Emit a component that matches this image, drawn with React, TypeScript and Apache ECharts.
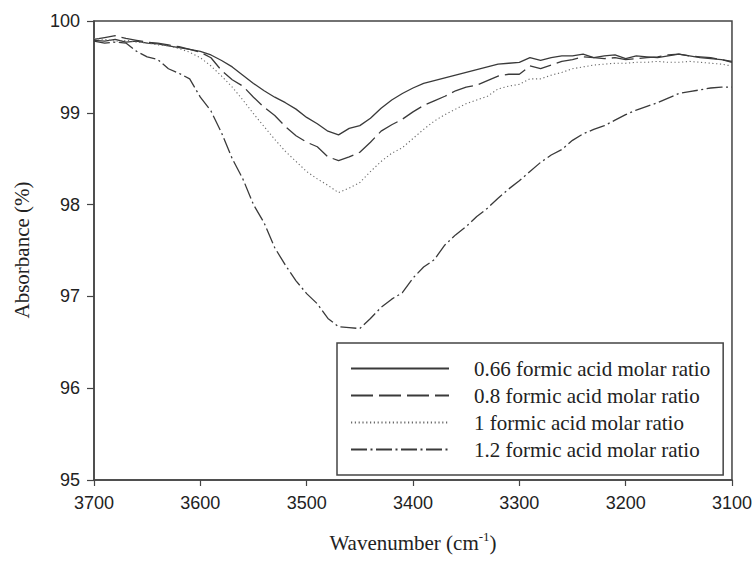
import React, { useEffect, useRef } from "react";
import * as echarts from "echarts";

const wavenumbers = [
  3700, 3690, 3680, 3670, 3660, 3650, 3640, 3630, 3620, 3610,
  3600, 3590, 3580, 3570, 3560, 3550, 3540, 3530, 3520, 3510,
  3500, 3490, 3480, 3470, 3460, 3450, 3440, 3430, 3420, 3410,
  3400, 3390, 3380, 3370, 3360, 3350, 3340, 3330, 3320, 3310,
  3300, 3290, 3280, 3270, 3260, 3250, 3240, 3230, 3220, 3210,
  3200, 3190, 3180, 3170, 3160, 3150, 3140, 3130, 3120, 3110, 3100,
];

const ratio066 = [
  99.79, 99.78, 99.8, 99.77, 99.78, 99.76, 99.75, 99.73, 99.71, 99.69,
  99.67, 99.63, 99.57, 99.5, 99.41, 99.32, 99.24, 99.17, 99.11, 99.04,
  98.95, 98.88, 98.8, 98.76, 98.83, 98.86, 98.94, 99.05, 99.14, 99.21,
  99.27, 99.32, 99.35, 99.38, 99.41, 99.44, 99.47, 99.5, 99.53, 99.54,
  99.55, 99.6, 99.57, 99.6, 99.62, 99.62, 99.64, 99.6, 99.62, 99.63,
  99.59, 99.62, 99.61, 99.6, 99.62, 99.64, 99.62, 99.6, 99.59, 99.58, 99.56,
];

const ratio08 = [
  99.8, 99.82, 99.84, 99.81, 99.79, 99.77, 99.76, 99.74, 99.72, 99.69,
  99.66, 99.6, 99.46, 99.36, 99.29, 99.17, 99.06, 98.97, 98.85, 98.75,
  98.68, 98.63, 98.52, 98.48, 98.52, 98.57, 98.68, 98.8, 98.87, 98.93,
  99.01, 99.08, 99.13, 99.18, 99.24, 99.28, 99.3, 99.35, 99.4, 99.42,
  99.42, 99.51, 99.48, 99.52, 99.56, 99.58, 99.61, 99.6, 99.59, 99.6,
  99.58, 99.59, 99.6, 99.61, 99.63, 99.64, 99.62, 99.61, 99.6, 99.58, 99.55,
];

const ratio1 = [
  99.81, 99.8, 99.78, 99.79, 99.77, 99.76, 99.74, 99.73, 99.7, 99.66,
  99.6, 99.51, 99.4, 99.28, 99.14, 98.99, 98.85, 98.71, 98.58, 98.47,
  98.36, 98.28, 98.21, 98.13, 98.18, 98.24, 98.36, 98.47, 98.56, 98.62,
  98.72, 98.82, 98.91, 98.98, 99.04, 99.1, 99.14, 99.18, 99.26, 99.29,
  99.31, 99.37, 99.37, 99.41, 99.44, 99.48, 99.5, 99.52, 99.53, 99.54,
  99.54, 99.55, 99.55, 99.56, 99.55, 99.55, 99.56, 99.55, 99.54, 99.53, 99.51,
];

const ratio12 = [
  99.78, 99.76, 99.77, 99.76, 99.67, 99.61, 99.58, 99.48, 99.43, 99.37,
  99.17, 99.02, 98.78, 98.5, 98.28, 98.0, 97.8, 97.53, 97.34, 97.17,
  97.03, 96.92, 96.76, 96.67, 96.66, 96.65, 96.76, 96.88, 96.97, 97.04,
  97.2, 97.32, 97.4, 97.56, 97.67, 97.76, 97.87, 97.96, 98.07, 98.17,
  98.26, 98.36, 98.46, 98.54, 98.6, 98.7, 98.77, 98.82, 98.86, 98.92,
  98.98, 99.03, 99.07, 99.11, 99.16, 99.21, 99.23, 99.25, 99.27, 99.28, 99.28,
];

const seriesNames = [
  "0.66 formic acid molar ratio",
  "0.8 formic acid molar ratio",
  "1 formic acid molar ratio",
  "1.2 formic acid molar ratio",
];

const xTicks = ["3700", "3600", "3500", "3400", "3300", "3200", "3100"];
const yTicks = ["95", "96", "97", "98", "99", "100"];

const SERIF = "'Liberation Serif', 'Times New Roman', serif";
const SANS = "'Liberation Sans', Arial, sans-serif";

export default function App() {
  const ref = useRef<HTMLDivElement>(null);

  useEffect(() => {
    if (!ref.current) return;
    const chart = echarts.init(ref.current, undefined, { renderer: "svg" });
    const pair = (vals: number[]) => wavenumbers.map((w, i) => [w, vals[i]]);
    const lineColor = "#3a3a3a";
    const styles: any[] = [
      { type: "solid", width: 1.3, color: lineColor },
      { type: [22, 6], width: 1.3, color: lineColor },
      { type: [1.2, 2.6], width: 1.1, color: "#6a6a6a" },
      { type: [16, 3.5, 2, 3.5], width: 1.3, color: lineColor },
    ];
    const data = [ratio066, ratio08, ratio1, ratio12];

    chart.setOption({
      animation: false,
      backgroundColor: "#ffffff",
      grid: {
        left: 94,
        right: 22,
        top: 21,
        bottom: 81,
        show: true,
        borderColor: "#444",
        borderWidth: 1.5,
        backgroundColor: "transparent",
      },
      xAxis: {
        type: "value",
        min: 3100,
        max: 3700,
        interval: 100,
        inverse: true,
        splitLine: { show: false },
        axisLine: { show: true, lineStyle: { color: "#444", width: 1.5 } },
        axisTick: { show: true, inside: false, length: 6, lineStyle: { color: "#444", width: 1.2 } },
        axisLabel: {
          margin: 14,
          color: "#222",
          fontSize: 18,
          fontFamily: SANS,
          formatter: (v: number) => xTicks.find((t) => Number(t) === v) ?? "",
        },
        name: "{a|Wavenumber (cm}{b|-1}{a|)}",
        nameLocation: "middle",
        nameGap: 50,
        nameTextStyle: {
          rich: {
            a: { fontFamily: SERIF, fontSize: 21, color: "#222", lineHeight: 26 },
            b: { fontFamily: SERIF, fontSize: 13, color: "#222", verticalAlign: "top", lineHeight: 14 },
          },
        },
      },
      yAxis: {
        type: "value",
        min: 95,
        max: 100,
        interval: 1,
        splitLine: { show: false },
        axisLine: { show: true, lineStyle: { color: "#444", width: 1.5 } },
        axisTick: { show: true, inside: false, length: 7, lineStyle: { color: "#444", width: 1.2 } },
        axisLabel: {
          margin: 14,
          color: "#222",
          fontSize: 18,
          fontFamily: SANS,
          formatter: (v: number) => yTicks.find((t) => Number(t) === v) ?? "",
        },
      },
      legend: {
        show: true,
        orient: "vertical",
        left: 337,
        top: 343,
        padding: [15, 13, 15, 13],
        itemGap: 6,
        itemWidth: 98,
        itemHeight: 14,
        borderColor: "#444",
        borderWidth: 1.5,
        backgroundColor: "#fff",
        itemStyle: { opacity: 0, borderWidth: 0 },
        data: seriesNames,
        textStyle: {
          fontFamily: SERIF,
          fontSize: 21,
          color: "#222",
          padding: [0, 0, 0, 20],
        },
      },
      graphic: [
        {
          type: "text",
          x: 22,
          y: 250,
          rotation: Math.PI / 2,
          style: {
            text: "Absorbance (%)",
            font: `21px ${SERIF}`,
            fill: "#222",
            textAlign: "center",
            textVerticalAlign: "middle",
          },
        },
      ],
      series: data.map((vals, i) => ({
        name: seriesNames[i],
        type: "line",
        data: pair(vals),
        showSymbol: false,
        symbol: "none",
        lineStyle: styles[i],
        itemStyle: { color: styles[i].color },
        z: 2,
      })),
    });

    return () => chart.dispose();
  }, []);

  return (
    <div
      ref={ref}
      style={{ position: "fixed", left: 0, top: 0, width: 755, height: 561, background: "#fff" }}
    />
  );
}
